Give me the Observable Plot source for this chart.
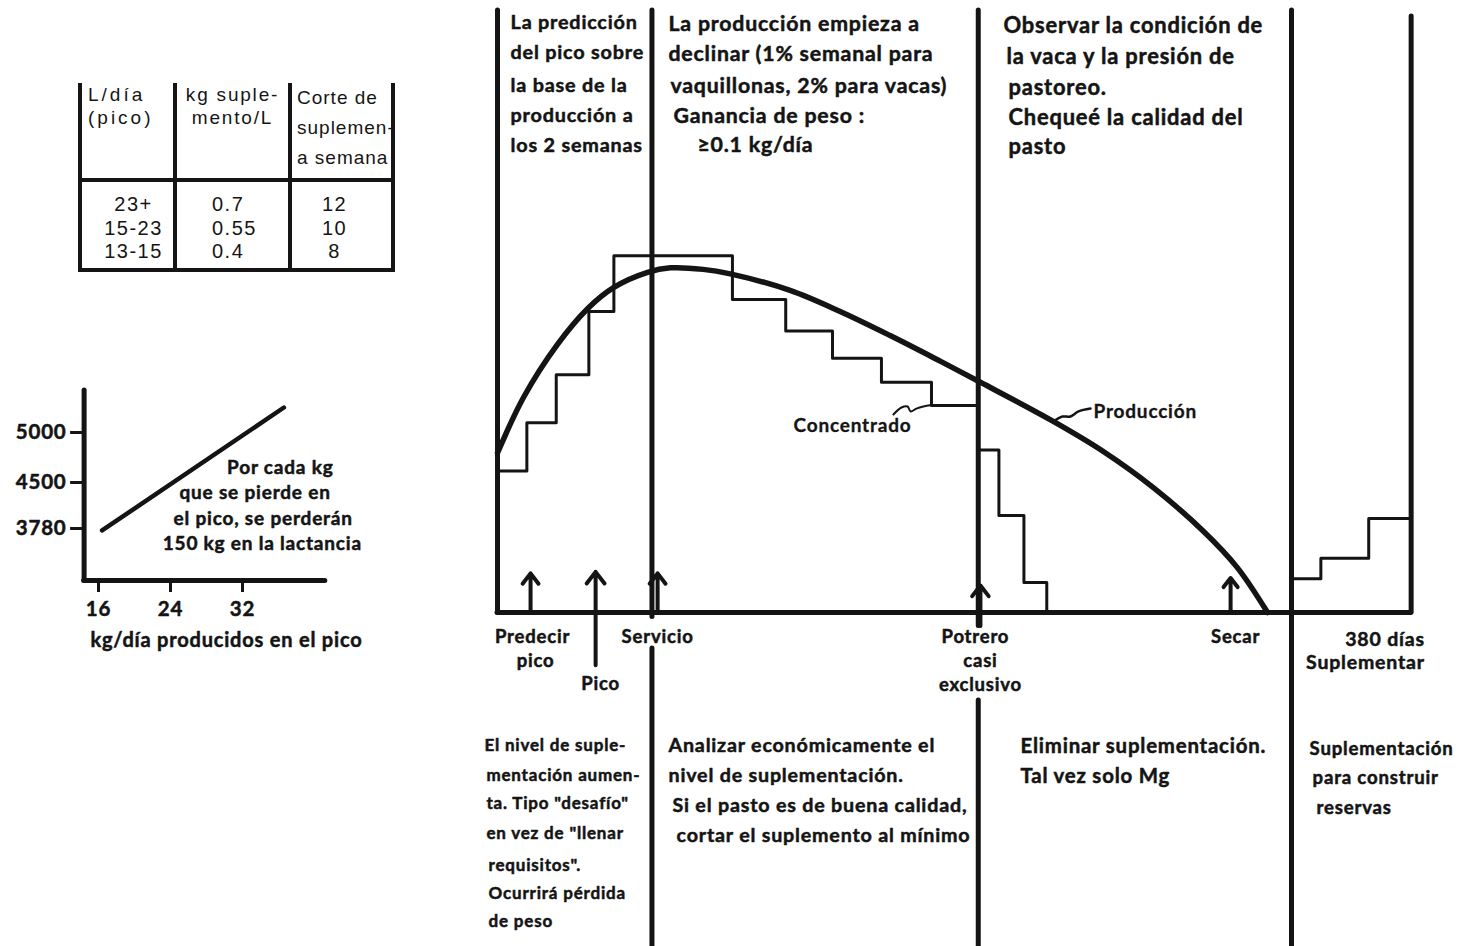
<!DOCTYPE html>
<html><head><meta charset="utf-8">
<script src="https://cdn.jsdelivr.net/npm/d3@7"></script>
<script src="https://cdn.jsdelivr.net/npm/@observablehq/plot@0.6"></script>
<style>
html,body{margin:0;padding:0;background:#fff;overflow:hidden;}
#page{position:relative;width:1473px;height:946px;overflow:hidden;background:#fff;}
#main,#inset,#table{position:absolute;}
#main{left:0;top:0;}
#inset{left:0;top:380px;}
#table{left:78px;top:83px;width:317px;display:grid;grid-template-columns:99px 115px 103px;grid-template-rows:99px 90px;
  font-family:"Liberation Sans","DejaVu Sans",sans-serif;color:#151515;}
#table div{box-sizing:border-box;border-bottom:4px solid #151515;border-right:4px solid #151515;overflow:hidden;white-space:nowrap;}
#table .c1{border-left:4px solid #151515;}
#table .h{font-size:19px;line-height:23px;letter-spacing:1.8px;}
#table .h.c1{padding-left:6px;letter-spacing:3px;}
#table .h.c2{text-align:center;}
#table .h.c3{padding-left:5px;line-height:30px;letter-spacing:1px;}
#table .b{font-size:20px;line-height:23.5px;letter-spacing:1.5px;padding-top:11px;}
#table .b.c1{text-align:center;padding-left:12px;}
#table .b.c2{text-align:left;padding-left:35px;}
#table .b.c3{text-align:center;padding-right:14px;}
svg text{letter-spacing:0.8px;}
</style></head>
<body><div id="page"><div id="main"></div><div id="inset"></div><div id="table"></div></div>
<script>
// ---------- main chart: lactation curve (L/day) and concentrate allowance, x in days ----------
const productionDay   = [0, 12, 27.5, 41.5, 53.5, 69, 79.5, 94.5, 107, 134.5, 157.5, 180.5, 203.5, 222, 255.5, 278.5, 301.5, 324.5, 340, 354];
const productionLevel = [10.6, 14.3, 17.8, 20.2, 21.6, 22.6, 22.9, 22.8, 22.5, 21.4, 20.0, 18.4, 16.7, 15.3, 12.7, 10.7, 8.3, 5.4, 3.0, 0];
const concentrateDay   = [0, 13.5, 27, 42, 53.5, 108, 132.5, 154, 176.5, 199.5, 221, 230.5, 242, 252.5];
const concentrateLevel = [9.4, 12.6, 15.8, 20, 23.7, 20.8, 18.7, 16.9, 15.3, 13.75, 10.8, 6.45, 2.0, 0];
const dryDay   = [365, 378.5, 400.5, 420];
const dryLevel = [2.25, 3.6, 6.25, 6.25];

// period dividers
const dividerDay    = [0, 71, 71, 221, 221, 365, 420];
const dividerTop    = [40, 40, -2.4, 40, -5.85, 40, 39.6];
const dividerBottom = [0, -0.3, -22.3, -0.9, -22.3, -22.3, 0];

// events marked with arrows
const eventDay  = [15.2, 45.1, 73.6, 222, 337];
const eventFrom = [0, -3.5, 0, -0.9, 0];
const eventTo   = [2.6, 2.7, 2.6, 1.8, 2.3];

// event labels under the axis
const eventLabelText  = ["Predecir", "pico", "Pico", "Servicio", "Potrero", "casi", "exclusivo", "Secar", "380 días", "Suplementar"];
const eventLabelDay   = [16.1, 17.5, 47.4, 73.6, 219.7, 222, 222, 339.3, 408, 399];
const eventLabelLevel = [-1.6, -3.2, -4.75, -1.6, -1.65, -3.2, -4.85, -1.65, -1.8, -3.35];
const eventLabelGroup = [0, 0, 0, 0, 0, 0, 0, 0, 1, 1];

// top notes (block = column)
const topText = ["La predicción", "del pico sobre", "la base de la", "producción a", "los 2 semanas",
  "La producción empieza a", "declinar (1% semanal para", "vaquillonas, 2% para vacas)", "Ganancia de peso :", "≥0.1 kg/día",
  "Observar la condición de", "la vaca y la presión de", "pastoreo.", "Chequeé la calidad del", "pasto"];
const topDay   = [6, 6, 6, 6, 6, 78.6, 78.6, 79.5, 80.9, 91.9, 232.6, 234, 234.9, 234.9, 234.9];
const topLevel = [39.2, 37.2, 35.0, 33.0, 31.0, 39.07, 37.08, 34.95, 32.96, 31.03, 38.94, 36.94, 34.88, 32.89, 30.96];
const topBlock = [0, 0, 0, 0, 0, 1, 1, 1, 1, 1, 2, 2, 2, 2, 2];

// bottom notes
const bottomText = ["El nivel de suple-", "mentación aumen-", "ta. Tipo \"desafío\"", "en vez de \"llenar", "requisitos\".", "Ocurrirá pérdida", "de peso",
  "Analizar económicamente el", "nivel de suplementación.", "Si el pasto es de buena calidad,", "cortar el suplemento al mínimo",
  "Eliminar suplementación.", "Tal vez solo Mg",
  "Suplementación", "para construir", "reservas"];
const bottomDay   = [-6, -5.1, -5.1, -5.1, -4.1, -4.1, -4.1, 78.6, 78.6, 80.4, 82.3, 240.4, 240.4, 373.3, 374.7, 376.5];
const bottomLevel = [-8.84, -10.83, -12.69, -14.68, -16.81, -18.67, -20.53, -8.84, -10.83, -12.82, -14.82, -8.9, -10.9, -9.04, -11.03, -13.02];
const bottomBlock = [0, 0, 0, 0, 0, 0, 0, 1, 1, 1, 1, 2, 2, 3, 3, 3];

// series labels with leader squiggles
const seriesLabelText  = ["Concentrado", "Producción"];
const seriesLabelDay   = [136.1, 274];
const seriesLabelLevel = [12.43, 13.36];
const concLeaderDay   = [182, 185.7, 188.5, 189.9, 192.6, 195.8, 199.5];
const concLeaderLevel = [13.16, 13.62, 13.69, 13.36, 13.55, 13.69, 13.79];
const prodLeaderDay   = [255.6, 259.7, 263.4, 267.1, 272.6];
const prodLeaderLevel = [12.69, 13.02, 13.02, 13.36, 13.55];

// ---------- inset: lactation yield vs peak ----------
const insetXTicks = [16, 24, 32];
const insetYTicks = [3780, 4500, 5000];
const insetLineX = [16.4, 36.6];
const insetLineY = [3749, 5250];
const insetNote = ["Por cada kg", "que se pierde en", "el pico, se perderán", "150 kg en la lactancia"];
const insetNoteX = [36.2, 33.4, 34.3, 34.2];
const insetNoteY = [4650, 4343, 3937, 3545];

// ---------- table ----------
const tableHead = [["L/día", "(pico)"], ["kg suple-", "mento/L"], ["Corte de", "suplemen-", "a semana"]];
const peakRange = ["23+", "15-23", "13-15"];
const suppPerL  = ["0.7", "0.55", "0.4"];
const cutWeek   = ["12", "10", "8"];

// ================= styles / build =================
const ink = "#141414";
const FONT = "Lato, 'Open Sans', sans-serif";
const topSize = [19.8, 21.3, 21.9];
const bottomSize = [17, 19.7, 20.4, 18.6];
const eventSize = [18.5, 19.5];
const zip = (a, b, ka, kb) => a.map((v, i) => ({[ka]: v, [kb]: b[i]}));

const production = zip(productionDay, productionLevel, "day", "level");
const concentrate = zip(concentrateDay, concentrateLevel, "day", "level");
const dryPeriod = zip(dryDay, dryLevel, "day", "level");
const dividers = dividerDay.map((d, i) => ({day: d, top: dividerTop[i], bottom: dividerBottom[i]}));
const events = eventDay.map((d, i) => ({day: d, from: eventFrom[i], to: eventTo[i]}));
const eventLabels = eventLabelText.map((t, i) => ({text: t, day: eventLabelDay[i], level: eventLabelLevel[i], g: eventLabelGroup[i]}));
const topNotes = topText.map((t, i) => ({text: t, day: topDay[i], level: topLevel[i], b: topBlock[i]}));
const bottomNotes = bottomText.map((t, i) => ({text: t, day: bottomDay[i], level: bottomLevel[i], b: bottomBlock[i]}));
const seriesLabels = seriesLabelText.map((t, i) => ({text: t, day: seriesLabelDay[i], level: seriesLabelLevel[i]}));
const txt = {fill: ink, stroke: ink, strokeWidth: 0.5, fontWeight: 700};

const main = Plot.plot({
  width: 1473, height: 946, margin: 0,
  x: {domain: [0, 365], range: [497, 1291], axis: null},
  y: {domain: [0, 40], range: [612, 10], axis: null},
  style: {background: "transparent", fontFamily: FONT},
  marks: [
    Plot.ruleY([{a: 0, b: 420}], {y: () => 0, x1: "a", x2: "b", stroke: ink, strokeWidth: 5, strokeLinecap: "round"}),
    Plot.ruleX(dividers, {x: "day", y1: "top", y2: "bottom", stroke: ink, strokeWidth: 5, strokeLinecap: "round"}),
    Plot.line(concentrate, {x: "day", y: "level", curve: "step-after", stroke: ink, strokeWidth: 3}),
    Plot.line(dryPeriod, {x: "day", y: "level", curve: "step-after", stroke: ink, strokeWidth: 3}),
    Plot.line(production, {x: "day", y: "level", curve: "catmull-rom", stroke: ink, strokeWidth: 5.5, strokeLinecap: "round"}),
    Plot.line(zip(concLeaderDay, concLeaderLevel, "day", "level"), {x: "day", y: "level", curve: "catmull-rom", stroke: ink, strokeWidth: 2}),
    Plot.line(zip(prodLeaderDay, prodLeaderLevel, "day", "level"), {x: "day", y: "level", curve: "catmull-rom", stroke: ink, strokeWidth: 2.5}),
    Plot.arrow(events, {x1: "day", x2: "day", y1: "from", y2: "to", stroke: ink, strokeWidth: 4, headLength: 5.5, headAngle: 75}),
    Plot.text(topNotes, {x: "day", y: "level", text: "text", textAnchor: "start", fontSize: d => topSize[d.b], ...txt}),
    Plot.text(bottomNotes, {x: "day", y: "level", text: "text", textAnchor: "start", fontSize: d => bottomSize[d.b], ...txt}),
    Plot.text(eventLabels, {x: "day", y: "level", text: "text", textAnchor: "middle", fontSize: d => eventSize[d.g], ...txt}),
    Plot.text(seriesLabels, {x: "day", y: "level", text: "text", textAnchor: "start", fontSize: 19, ...txt, strokeWidth: 0.3})
  ]
});
document.getElementById("main").append(main);

// inset
const inset = Plot.plot({
  width: 380, height: 280, margin: 0,
  x: {domain: [16, 32], range: [98, 242], axis: null},
  y: {type: "linear", domain: [3780, 4500, 5000], range: [148, 102, 52], axis: null},
  style: {background: "transparent", fontFamily: FONT},
  marks: [
    Plot.ruleX([{x: 14.4, y1: 2966, y2: 5420}], {x: "x", y1: "y1", y2: "y2", stroke: ink, strokeWidth: 5, strokeLinecap: "round"}),
    Plot.ruleY([{y: 2966, x1: 14.4, x2: 41.2}], {y: "y", x1: "x1", x2: "x2", stroke: ink, strokeWidth: 5, strokeLinecap: "round"}),
    Plot.ruleY(insetYTicks, {y: d => d, x1: () => 12.9, x2: () => 14.4, stroke: ink, strokeWidth: 3}),
    Plot.ruleX(insetXTicks, {x: d => d, y1: () => 2966, y2: () => 2778, stroke: ink, strokeWidth: 3}),
    Plot.text(insetYTicks, {x: () => 12.45, y: d => d, text: d => String(d), textAnchor: "end", fontSize: 20.5, ...txt}),
    Plot.text(insetXTicks, {x: d => d, y: () => 2512, text: d => String(d), textAnchor: "middle", fontSize: 20.5, ...txt}),
    Plot.text(["kg/día producidos en el pico"], {x: () => 15.1, y: () => 2027, text: d => d, textAnchor: "start", fontSize: 20, ...txt}),
    Plot.line(zip(insetLineX, insetLineY, "x", "y"), {x: "x", y: "y", stroke: ink, strokeWidth: 4.5, strokeLinecap: "round"}),
    Plot.text(insetNote.map((t, i) => ({t, x: insetNoteX[i], y: insetNoteY[i]})), {x: "x", y: "y", text: "t", textAnchor: "middle", fontSize: 19, ...txt})
  ]
});
document.getElementById("inset").append(inset);

// table
const tbl = document.getElementById("table");
tableHead.forEach((lines, i) => {
  const d = document.createElement("div");
  d.className = "h c" + (i + 1);
  d.innerHTML = lines.join("<br>");
  tbl.append(d);
});
[peakRange, suppPerL, cutWeek].forEach((col, i) => {
  const d = document.createElement("div");
  d.className = "b c" + (i + 1);
  d.innerHTML = col.join("<br>");
  tbl.append(d);
});
</script>
</body></html>
